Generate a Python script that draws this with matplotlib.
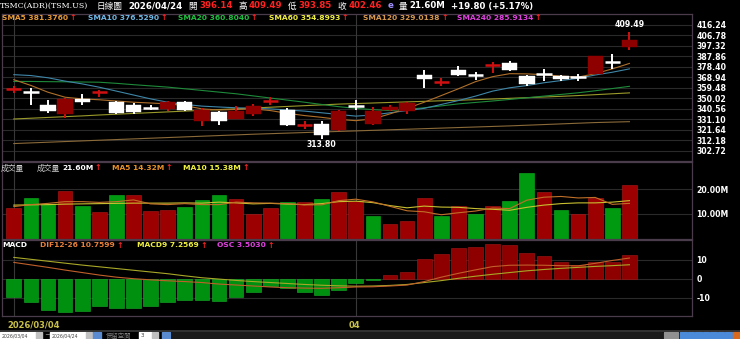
import matplotlib.pyplot as plt
import numpy as np
from matplotlib import rcParams
from matplotlib.patches import Rectangle

rcParams['font.family'] = ['DejaVu Sans', 'Noto Sans CJK TC']

# ---- data (37 trading days, 2026/03/04 .. 2026/04/24) ----
opens = [358.0, 355.8, 343.8, 336.0, 349.6, 354.6, 346.5, 344.4, 341.7, 340.5,
         346.5, 329.3, 337.4, 331.4, 336.0, 347.4, 339.9, 325.4, 326.9, 321.7,
         344.1, 326.9, 339.9, 339.0, 371.3, 364.0, 375.8, 371.6, 379.7, 382.2,
         370.0, 372.8, 370.0, 369.1, 371.6, 383.2, 396.14]
highs = [361.3, 359.5, 348.9, 350.1, 353.5, 357.7, 347.4, 346.2, 344.4, 347.4,
         348.0, 341.4, 339.0, 343.5, 345.0, 351.0, 341.0, 329.9, 329.9, 339.6,
         348.7, 341.9, 344.4, 346.5, 375.2, 368.6, 378.8, 373.6, 382.7, 383.4,
         370.9, 376.1, 370.9, 371.6, 387.9, 389.7, 409.49]
lows = [355.0, 344.4, 336.9, 332.3, 344.4, 351.0, 336.0, 336.0, 339.6, 339.0,
        339.0, 325.4, 326.0, 331.4, 334.4, 344.4, 325.4, 322.4, 313.8, 320.8,
        339.9, 326.0, 339.0, 336.0, 359.5, 361.0, 369.8, 366.1, 373.1, 374.3,
        361.0, 365.5, 365.2, 365.5, 371.6, 376.1, 393.85]
closes = [358.8, 355.3, 339.0, 349.6, 347.1, 355.9, 336.9, 338.1, 340.5, 346.5,
          339.9, 339.6, 329.9, 339.0, 343.5, 348.6, 326.3, 326.5, 317.2, 338.3,
          342.9, 339.0, 342.6, 345.9, 367.7, 365.2, 371.3, 370.9, 380.9, 375.2,
          362.5, 371.6, 367.0, 368.7, 387.9, 382.66, 402.46]

sma5 = [366.8, 361.6, 355.5, 351.0, 349.5, 348.7, 347.6, 346.5, 345.8, 345.0,
        343.5, 340.5, 339.5, 340.0, 340.5, 339.0, 336.5, 334.5, 332.9, 331.0,
        329.9, 331.5, 336.0, 341.0, 346.5, 352.5, 358.6, 365.0, 369.5, 372.2,
        372.0, 371.3, 370.0, 369.1, 372.2, 376.5, 381.4]
sma10 = [371.3, 370.5, 368.5, 365.5, 363.0, 360.0, 356.5, 353.0, 349.5, 346.5,
         344.5, 343.0, 342.2, 341.5, 341.0, 340.5, 339.5, 338.5, 337.0, 335.5,
         334.0, 335.0, 337.0, 339.0, 341.0, 344.5, 348.0, 352.0, 356.5, 359.5,
         361.5, 364.0, 366.0, 368.0, 371.0, 373.5, 376.5]
sma20 = [365.2, 365.2, 365.0, 364.9, 364.7, 364.5, 363.5, 362.3, 361.2, 360.1,
         358.6, 357.1, 355.6, 354.1, 352.2, 350.3, 348.4, 346.5, 344.5, 342.5,
         341.0, 339.8, 339.0, 340.0, 341.5, 343.2, 345.0, 346.3, 347.6, 349.0,
         350.5, 352.0, 353.5, 355.0, 356.8, 358.8, 360.8]
sma60 = [331.4, 332.1, 332.8, 333.5, 334.2, 335.0, 335.7, 336.4, 337.1, 337.8,
         338.5, 339.2, 339.9, 340.6, 341.3, 342.0, 342.7, 343.4, 344.1, 344.8,
         345.3, 345.8, 346.3, 346.8, 347.3, 347.8, 348.3, 348.8, 349.4, 350.0,
         350.6, 351.2, 351.8, 352.5, 353.3, 354.1, 354.9]
sma120 = [309.3, 309.9, 310.5, 311.1, 311.7, 312.3, 312.9, 313.5, 314.1, 314.7,
          315.3, 315.9, 316.5, 317.1, 317.7, 318.2, 318.7, 319.2, 319.7, 320.2,
          320.7, 321.2, 321.7, 322.2, 322.7, 323.2, 323.7, 324.2, 324.7, 325.2,
          325.8, 326.4, 327.0, 327.6, 328.2, 328.6, 329.0]

volume = [12.3, 16.5, 13.9, 19.3, 13.2, 10.8, 17.7, 17.6, 11.3, 11.6,
          12.8, 15.7, 17.7, 16.1, 10.1, 12.4, 14.9, 14.9, 16.1, 18.8,
          15.4, 9.2, 6.0, 7.2, 16.6, 9.3, 13.2, 9.9, 13.2, 15.3,
          26.6, 18.8, 11.6, 10.1, 16.5, 12.4, 21.6]
vol_ma5 = [13.0, 13.8, 14.3, 15.0, 15.0, 14.7, 15.0, 15.7, 14.1, 13.8,
           14.2, 13.8, 13.8, 14.8, 14.5, 14.4, 14.2, 13.7, 13.7, 15.4,
           16.0, 14.9, 13.1, 11.3, 10.9, 9.7, 10.5, 11.2, 12.4, 12.2,
           15.6, 16.8, 17.1, 16.5, 16.7, 13.9, 14.3]
vol_ma10 = [13.6, 13.7, 13.8, 14.0, 14.1, 14.2, 14.3, 14.4, 14.4, 14.4,
            14.5, 14.4, 14.8, 14.5, 14.1, 14.3, 14.0, 13.8, 14.2, 15.0,
            15.2, 14.6, 13.4, 12.5, 13.2, 12.8, 12.7, 12.2, 11.9, 11.5,
            12.7, 13.6, 14.2, 14.5, 14.5, 14.8, 15.4]

dif = [8.5, 7.2, 5.9, 4.5, 3.2, 1.9, 0.8, 0.0, -0.6, -1.1,
       -1.5, -2.0, -2.8, -3.3, -3.8, -4.3, -4.7, -4.9, -5.0, -4.7,
       -4.3, -4.2, -3.8, -3.3, -1.5, 0.8, 2.8, 4.6, 6.3, 7.0,
       7.1, 7.0, 6.8, 6.7, 8.0, 9.5, 10.76]
macd9 = [11.1, 10.1, 9.1, 8.1, 7.1, 6.2, 5.3, 4.4, 3.5, 2.6,
         1.5, 0.5, -0.2, -0.9, -1.5, -2.0, -2.5, -3.0, -3.4, -3.7,
         -3.9, -3.8, -3.5, -3.0, -2.0, -1.0, 0.2, 1.3, 2.3, 3.2,
         4.1, 4.8, 5.4, 5.9, 6.4, 6.8, 7.26]
osc = [-9.7, -12.3, -16.1, -17.2, -16.7, -14.1, -15.1, -15.1, -14.2, -12.0,
       -10.9, -10.9, -11.5, -9.5, -6.8, -3.8, -5.1, -6.7, -8.6, -6.1,
       -2.0, -0.5, 2.0, 3.6, 10.1, 13.1, 16.1, 16.7, 18.1, 17.7,
       13.5, 11.8, 8.9, 7.3, 8.5, 8.9, 12.6]

price_ticks = [416.24, 406.78, 397.32, 387.86, 378.40, 368.94, 359.48, 350.02,
               340.56, 331.10, 321.64, 312.18, 302.72]
vol_ticks = [10, 20]
macd_ticks = [-10, 0, 10]
date_ticks = [1, 21]
date_labels = ['2026/03/04', '04']

# ---- figure / layout in pixels ----
W, H = 740, 339
fig = plt.figure(figsize=(W / 100, H / 100), dpi=100, facecolor='black')
renderer = fig.canvas.get_renderer()

def px_axes(x0, y0, x1, y1):
    ax = fig.add_axes([x0 / W, 1 - y1 / H, (x1 - x0) / W, (y1 - y0) / H])
    ax.set_facecolor('black')
    return ax

def ptext(x, y, s, **kw):
    kw.setdefault('va', 'center')
    kw.setdefault('ha', 'left')
    return fig.text(x / W, 1 - y / H, s, **kw)

def width_px(t):
    return t.get_window_extent(renderer).width

x = np.arange(1, len(closes) + 1)
o, h, l, c = map(np.array, (opens, highs, lows, closes))
up = c >= o
xlim = (0.31, 40.66)
frame = '#4a3c4a'
grid = '#2a2a2a'
RED_BODY = '#8e0000'
RED_LINE = '#d01010'

def style(ax, ticks, labels):
    ax.set_xlim(*xlim)
    ax.set_xticks([])
    ax.yaxis.tick_right()
    ax.set_yticks(ticks)
    ax.set_yticklabels(labels)
    ax.tick_params(axis='y', length=0, pad=3, labelsize=5.6, labelcolor='white')
    for t in ax.get_yticklabels():
        t.set_fontweight('bold')
    for s in ax.spines.values():
        s.set_color(frame)
        s.set_linewidth(0.9)
    for t in ticks:
        ax.axhline(t, color=grid, lw=0.8, zorder=0)
    for d in date_ticks:
        ax.axvline(d, color='#383838', lw=0.8, zorder=0)

# price panel
ax1 = px_axes(2, 14, 692, 161)
ax1.set_ylim(293.6, 425.9)
style(ax1, price_ticks, ['%.2f' % t for t in price_ticks])
ax1.plot(x, sma120, color='#8a6a38', lw=0.8, zorder=2)
ax1.plot(x, sma60, color='#9a9a2a', lw=0.8, zorder=2)
ax1.plot(x, sma20, color='#1e8a3a', lw=0.8, zorder=2)
ax1.plot(x, sma10, color='#3f86a8', lw=0.8, zorder=2)
ax1.plot(x, sma5, color='#b0702a', lw=0.8, zorder=2)
for i in range(len(x)):
    col = RED_BODY if up[i] else 'white'
    wcol = RED_LINE if up[i] else 'white'
    ax1.vlines(x[i], l[i], h[i], color=wcol, lw=1.4, zorder=3)
    body = abs(c[i] - o[i])
    if body < 1.6:
        ax1.hlines((o[i] + c[i]) / 2, x[i] - 0.45, x[i] + 0.45,
                   color=wcol, lw=1.8, zorder=4)
    else:
        ax1.bar(x[i], body, bottom=min(o[i], c[i]), width=0.9, color=col,
                edgecolor=col, lw=0.3, zorder=4)
ax1.text(x[-1], h[-1] + 2.5, '%.2f' % h[-1], color='white', fontsize=5.6,
         ha='center', va='bottom', fontweight='bold')
imin = int(np.argmin(l))
ax1.text(x[imin], l[imin] - 1.5, '%.2f' % l[imin], color='white', fontsize=5.6,
         ha='center', va='top', fontweight='bold')

# volume panel
ax2 = px_axes(2, 162, 692, 238.7)
ax2.set_ylim(0, 31.05)
style(ax2, vol_ticks, ['%.2fM' % t for t in vol_ticks])
vup = np.r_[True, c[1:] >= c[:-1]]
ax2.bar(x, volume, width=0.86, color=np.where(vup, '#9c0000', '#009a10'),
        edgecolor=np.where(vup, '#b01818', '#10b020'), lw=0.4, zorder=2)
ax2.plot(x, vol_ma10, color='#c8c030', lw=0.8, zorder=3)
ax2.plot(x, vol_ma5, color='#c07028', lw=0.8, zorder=3)

# MACD panel
ax3 = px_axes(2, 240, 692, 316)
ax3.set_ylim(-19.43, 20.16)
style(ax3, macd_ticks, [str(t) for t in macd_ticks])
oa = np.array(osc)
ax3.bar(x, oa, width=0.86, color=np.where(oa >= 0, '#8e0000', '#009010'),
        edgecolor=np.where(oa >= 0, '#a81818', '#18b028'), lw=0.4, zorder=2)
ax3.plot(x, macd9, color='#a8a828', lw=0.8, zorder=3)
ax3.plot(x, dif, color='#c0602a', lw=0.8, zorder=3)

# ---- header row 1: laid out left to right between x=97 and x=533 ----
ptext(0, 6, 'TSMC(ADR)(TSM.US)', color='white', fontsize=5.7, family=['DejaVu Serif'])
VAL = dict(fontweight='bold', fontsize=6.2)
CJK = dict(fontsize=6.2)
row1 = [('日線圖', 'white', CJK, 0), ('2026/04/24', 'white', VAL, 1),
        ('開', 'white', CJK, 1), ('396.14', '#ff2020', VAL, 0),
        ('高', 'white', CJK, 1), ('409.49', '#ff2020', VAL, 0),
        ('低', 'white', CJK, 1), ('393.85', '#ff2020', VAL, 0),
        ('收', 'white', CJK, 1), ('402.46', '#ff2020', VAL, 0),
        ('e', '#a090ff', VAL, 1), ('量', 'white', CJK, 1),
        ('21.60M', 'white', VAL, 0), ('+19.80 (+5.17%)', 'white', VAL, 1)]
items = [ptext(0, 6, s, color=col, **kw) for s, col, kw, _ in row1]
widths = [width_px(t) for t in items]
n_big = sum(g for *_, g in row1)
small = 2.0
n_small = len(row1) - 1 - n_big
big = (533 - 97 - sum(widths) - small * n_small) / n_big
pos = 97.0
for k, t in enumerate(items):
    if k > 0:
        pos += big if row1[k][3] else small
    t.set_x(pos / W)
    pos += widths[k]

# ---- indicator labels ----
LAB = dict(fontweight='bold', fontsize=5.4)

def with_arrow(x0, y, s, col):
    t = ptext(x0, y, s, color=col, **LAB)
    ptext(x0 + width_px(t) + 1.5, y, '↑', color='#ff2020',
          fontweight='bold', fontsize=5.6)

sma_labels = [(2, 'SMA5 381.3760', '#e89a38'), (88, 'SMA10 376.5290', '#70b8e8'),
              (178, 'SMA20 360.8040', '#20c040'), (269, 'SMA60 354.8993', '#f0f040'),
              (363, 'SMA120 329.0138', '#d89850'), (457, 'SMA240 285.9134', '#e040e0')]
vol_labels = [(112, 'MA5 14.32M', '#e8902a'), (183, 'MA10 15.38M', '#f0f040')]
macd_labels = [(40, 'DIF12-26 10.7599', '#e8803a'), (137, 'MACD9 7.2569', '#f0f040'),
               (217, 'OSC 3.5030', '#e040e0')]

for xx, s, col in sma_labels:
    with_arrow(xx, 17.5, s, col)
ptext(0.5, 168, '成交量', color='#d0d0d0', fontsize=5.6)
ptext(37, 168, '成交量', color='#d0d0d0', fontsize=5.6)
with_arrow(62, 168, '21.60M', 'white')
for xx, s, col in vol_labels:
    with_arrow(xx, 168, s, col)
ptext(2, 245, 'MACD', color='white', **LAB)
for xx, s, col in macd_labels:
    with_arrow(xx, 245, s, col)

# date axis labels
ptext(7, 325, date_labels[0], color='#c8c048', fontsize=6, fontweight='bold')
ptext(349, 325, date_labels[1], color='#c8c048', fontsize=6, fontweight='bold')

# ---- bottom toolbar ----
tb = fig.add_axes([0, 0, 1, 1], facecolor='none')
tb.set_xlim(0, W)
tb.set_ylim(H, 0)
tb.axis('off')
tb.axhline(330.5, color='#3a3a3a', lw=1.2)
tb.add_patch(Rectangle((172, 332), 490, 6, color='#1a1a1a'))
for bx, bw in [(0, 36), (50, 36), (139, 13)]:
    tb.add_patch(Rectangle((bx, 332), bw, 7, color='white'))
for bx in (36, 86, 152):
    tb.add_patch(Rectangle((bx, 332), 6, 7, color='#c0c0c0'))
for bx in (93, 162):
    tb.add_patch(Rectangle((bx, 332), 8, 7, color='#5a8ad0'))
tb.text(2, 335.5, '2026/03/04', fontsize=3.3, color='#404040', va='center')
tb.text(52, 335.5, '2026/04/24', fontsize=3.3, color='#404040', va='center')
tb.text(44.5, 335.5, '~', fontsize=5, color='#c0c0c0', va='center')
tb.text(106, 335.5, '保留空間', fontsize=4.6, color='#808080', va='center')
tb.text(141, 335.5, '3', fontsize=4, color='#404040', va='center')
tb.add_patch(Rectangle((664, 332), 14, 7, color='#909090'))
for k in range(7):
    tb.add_patch(Rectangle((680 + k * 7.5, 332), 6.5, 7, color='#4a8ad8'))
tb.add_patch(Rectangle((733, 332), 7, 7, color='#d86a20'))

fig.savefig('out.png', dpi=100, facecolor='black')
